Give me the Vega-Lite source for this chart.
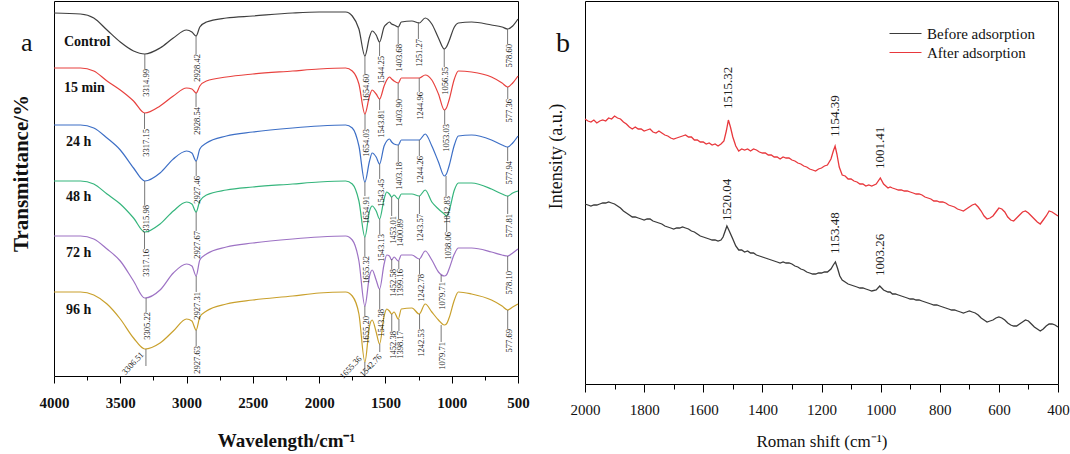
{
"$schema": "https://vega.github.io/schema/vega-lite/v6.json",
"background": "white",
"padding": {"left": 9, "top": 0, "right": 5, "bottom": 5},
"bounds": "flush",
"spacing": 67,
"resolve": {"scale": {"color": "independent"}, "legend": {"color": "independent"}},
"config": {"font": "Liberation Serif", "view": {"stroke": "#000", "strokeWidth": 1}, "axis": {"grid": false, "domain": false, "tickColor": "#000"}},
"datasets": {
"ftir": [
{"sample":"Control","wn":4000,"t":363},{"sample":"Control","wn":3800,"t":362},{"sample":"Control","wn":3700,"t":358},{"sample":"Control","wn":3600,"t":346},{"sample":"Control","wn":3500,"t":334},{"sample":"Control","wn":3400,"t":325},{"sample":"Control","wn":3315,"t":322},{"sample":"Control","wn":3200,"t":328},{"sample":"Control","wn":3100,"t":338},{"sample":"Control","wn":3000,"t":346},{"sample":"Control","wn":2960,"t":344},{"sample":"Control","wn":2928,"t":340},{"sample":"Control","wn":2900,"t":349},{"sample":"Control","wn":2850,"t":354},{"sample":"Control","wn":2700,"t":358},{"sample":"Control","wn":2500,"t":360},{"sample":"Control","wn":2200,"t":363},{"sample":"Control","wn":2000,"t":364},{"sample":"Control","wn":1800,"t":364},{"sample":"Control","wn":1750,"t":360},{"sample":"Control","wn":1700,"t":347},{"sample":"Control","wn":1655,"t":320},{"sample":"Control","wn":1620,"t":339},{"sample":"Control","wn":1600,"t":345},{"sample":"Control","wn":1570,"t":341},{"sample":"Control","wn":1544,"t":334},{"sample":"Control","wn":1510,"t":349},{"sample":"Control","wn":1490,"t":352},{"sample":"Control","wn":1470,"t":354},{"sample":"Control","wn":1453,"t":352},{"sample":"Control","wn":1435,"t":351},{"sample":"Control","wn":1403,"t":349},{"sample":"Control","wn":1380,"t":354},{"sample":"Control","wn":1300,"t":355},{"sample":"Control","wn":1245,"t":353},{"sample":"Control","wn":1200,"t":358},{"sample":"Control","wn":1150,"t":352},{"sample":"Control","wn":1100,"t":338},{"sample":"Control","wn":1056,"t":327},{"sample":"Control","wn":1040,"t":329},{"sample":"Control","wn":1020,"t":335},{"sample":"Control","wn":980,"t":349},{"sample":"Control","wn":950,"t":353},{"sample":"Control","wn":850,"t":354},{"sample":"Control","wn":700,"t":351},{"sample":"Control","wn":620,"t":349},{"sample":"Control","wn":578,"t":347},{"sample":"Control","wn":540,"t":350},{"sample":"Control","wn":500,"t":357},
{"sample":"15 min","wn":4000,"t":308},{"sample":"15 min","wn":3800,"t":308},{"sample":"15 min","wn":3700,"t":305},{"sample":"15 min","wn":3600,"t":295},{"sample":"15 min","wn":3500,"t":286},{"sample":"15 min","wn":3400,"t":275},{"sample":"15 min","wn":3315,"t":263},{"sample":"15 min","wn":3200,"t":270},{"sample":"15 min","wn":3100,"t":280},{"sample":"15 min","wn":3000,"t":288},{"sample":"15 min","wn":2960,"t":287},{"sample":"15 min","wn":2928,"t":283},{"sample":"15 min","wn":2900,"t":290},{"sample":"15 min","wn":2850,"t":295},{"sample":"15 min","wn":2700,"t":299},{"sample":"15 min","wn":2500,"t":302},{"sample":"15 min","wn":2200,"t":305},{"sample":"15 min","wn":2000,"t":307},{"sample":"15 min","wn":1800,"t":308},{"sample":"15 min","wn":1750,"t":305},{"sample":"15 min","wn":1700,"t":292},{"sample":"15 min","wn":1655,"t":262},{"sample":"15 min","wn":1620,"t":280},{"sample":"15 min","wn":1600,"t":286},{"sample":"15 min","wn":1570,"t":282},{"sample":"15 min","wn":1544,"t":277},{"sample":"15 min","wn":1510,"t":290},{"sample":"15 min","wn":1490,"t":296},{"sample":"15 min","wn":1470,"t":299},{"sample":"15 min","wn":1453,"t":297},{"sample":"15 min","wn":1435,"t":295},{"sample":"15 min","wn":1403,"t":293},{"sample":"15 min","wn":1380,"t":298},{"sample":"15 min","wn":1300,"t":298},{"sample":"15 min","wn":1245,"t":298},{"sample":"15 min","wn":1200,"t":301},{"sample":"15 min","wn":1150,"t":296},{"sample":"15 min","wn":1100,"t":282},{"sample":"15 min","wn":1056,"t":266},{"sample":"15 min","wn":1040,"t":268},{"sample":"15 min","wn":1020,"t":276},{"sample":"15 min","wn":980,"t":297},{"sample":"15 min","wn":950,"t":305},{"sample":"15 min","wn":850,"t":304},{"sample":"15 min","wn":700,"t":299},{"sample":"15 min","wn":620,"t":293},{"sample":"15 min","wn":578,"t":289},{"sample":"15 min","wn":540,"t":293},{"sample":"15 min","wn":500,"t":300},
{"sample":"24 h","wn":4000,"t":251},{"sample":"24 h","wn":3800,"t":251},{"sample":"24 h","wn":3700,"t":248},{"sample":"24 h","wn":3600,"t":238},{"sample":"24 h","wn":3500,"t":226},{"sample":"24 h","wn":3400,"t":208},{"sample":"24 h","wn":3315,"t":195},{"sample":"24 h","wn":3200,"t":203},{"sample":"24 h","wn":3100,"t":217},{"sample":"24 h","wn":3000,"t":225},{"sample":"24 h","wn":2960,"t":223},{"sample":"24 h","wn":2928,"t":215},{"sample":"24 h","wn":2900,"t":227},{"sample":"24 h","wn":2850,"t":233},{"sample":"24 h","wn":2700,"t":240},{"sample":"24 h","wn":2500,"t":244},{"sample":"24 h","wn":2200,"t":248},{"sample":"24 h","wn":2000,"t":250},{"sample":"24 h","wn":1800,"t":251},{"sample":"24 h","wn":1750,"t":248},{"sample":"24 h","wn":1700,"t":230},{"sample":"24 h","wn":1655,"t":194},{"sample":"24 h","wn":1620,"t":215},{"sample":"24 h","wn":1600,"t":223},{"sample":"24 h","wn":1570,"t":219},{"sample":"24 h","wn":1544,"t":212},{"sample":"24 h","wn":1510,"t":230},{"sample":"24 h","wn":1490,"t":235},{"sample":"24 h","wn":1470,"t":237},{"sample":"24 h","wn":1453,"t":234},{"sample":"24 h","wn":1435,"t":232},{"sample":"24 h","wn":1403,"t":231},{"sample":"24 h","wn":1380,"t":236},{"sample":"24 h","wn":1300,"t":236},{"sample":"24 h","wn":1245,"t":236},{"sample":"24 h","wn":1200,"t":242},{"sample":"24 h","wn":1150,"t":230},{"sample":"24 h","wn":1100,"t":214},{"sample":"24 h","wn":1056,"t":200},{"sample":"24 h","wn":1040,"t":202},{"sample":"24 h","wn":1020,"t":210},{"sample":"24 h","wn":980,"t":231},{"sample":"24 h","wn":950,"t":240},{"sample":"24 h","wn":850,"t":241},{"sample":"24 h","wn":700,"t":236},{"sample":"24 h","wn":620,"t":231},{"sample":"24 h","wn":578,"t":229},{"sample":"24 h","wn":540,"t":233},{"sample":"24 h","wn":500,"t":240},
{"sample":"48 h","wn":4000,"t":195},{"sample":"48 h","wn":3800,"t":195},{"sample":"48 h","wn":3700,"t":192},{"sample":"48 h","wn":3600,"t":182},{"sample":"48 h","wn":3500,"t":172},{"sample":"48 h","wn":3400,"t":158},{"sample":"48 h","wn":3315,"t":144},{"sample":"48 h","wn":3200,"t":152},{"sample":"48 h","wn":3100,"t":165},{"sample":"48 h","wn":3000,"t":174},{"sample":"48 h","wn":2960,"t":172},{"sample":"48 h","wn":2928,"t":164},{"sample":"48 h","wn":2900,"t":175},{"sample":"48 h","wn":2850,"t":181},{"sample":"48 h","wn":2700,"t":186},{"sample":"48 h","wn":2500,"t":189},{"sample":"48 h","wn":2200,"t":192},{"sample":"48 h","wn":2000,"t":194},{"sample":"48 h","wn":1800,"t":195},{"sample":"48 h","wn":1750,"t":192},{"sample":"48 h","wn":1700,"t":175},{"sample":"48 h","wn":1655,"t":139},{"sample":"48 h","wn":1620,"t":165},{"sample":"48 h","wn":1600,"t":170},{"sample":"48 h","wn":1570,"t":165},{"sample":"48 h","wn":1544,"t":157},{"sample":"48 h","wn":1510,"t":177},{"sample":"48 h","wn":1490,"t":184},{"sample":"48 h","wn":1470,"t":182},{"sample":"48 h","wn":1453,"t":179},{"sample":"48 h","wn":1435,"t":181},{"sample":"48 h","wn":1403,"t":177},{"sample":"48 h","wn":1380,"t":182},{"sample":"48 h","wn":1300,"t":182},{"sample":"48 h","wn":1245,"t":180},{"sample":"48 h","wn":1200,"t":186},{"sample":"48 h","wn":1150,"t":174},{"sample":"48 h","wn":1100,"t":167},{"sample":"48 h","wn":1056,"t":162},{"sample":"48 h","wn":1040,"t":160},{"sample":"48 h","wn":1020,"t":165},{"sample":"48 h","wn":980,"t":186},{"sample":"48 h","wn":950,"t":193},{"sample":"48 h","wn":850,"t":193},{"sample":"48 h","wn":700,"t":187},{"sample":"48 h","wn":620,"t":182},{"sample":"48 h","wn":578,"t":180},{"sample":"48 h","wn":540,"t":183},{"sample":"48 h","wn":500,"t":185},
{"sample":"72 h","wn":4000,"t":140},{"sample":"72 h","wn":3800,"t":140},{"sample":"72 h","wn":3700,"t":137},{"sample":"72 h","wn":3600,"t":127},{"sample":"72 h","wn":3500,"t":115},{"sample":"72 h","wn":3400,"t":95},{"sample":"72 h","wn":3315,"t":78},{"sample":"72 h","wn":3200,"t":86},{"sample":"72 h","wn":3100,"t":103},{"sample":"72 h","wn":3000,"t":112},{"sample":"72 h","wn":2960,"t":110},{"sample":"72 h","wn":2928,"t":100},{"sample":"72 h","wn":2900,"t":116},{"sample":"72 h","wn":2850,"t":122},{"sample":"72 h","wn":2700,"t":129},{"sample":"72 h","wn":2500,"t":133},{"sample":"72 h","wn":2200,"t":137},{"sample":"72 h","wn":2000,"t":139},{"sample":"72 h","wn":1800,"t":140},{"sample":"72 h","wn":1750,"t":136},{"sample":"72 h","wn":1700,"t":115},{"sample":"72 h","wn":1655,"t":70},{"sample":"72 h","wn":1620,"t":100},{"sample":"72 h","wn":1600,"t":106},{"sample":"72 h","wn":1570,"t":96},{"sample":"72 h","wn":1544,"t":87},{"sample":"72 h","wn":1510,"t":112},{"sample":"72 h","wn":1490,"t":121},{"sample":"72 h","wn":1470,"t":120},{"sample":"72 h","wn":1453,"t":116},{"sample":"72 h","wn":1435,"t":119},{"sample":"72 h","wn":1403,"t":115},{"sample":"72 h","wn":1380,"t":121},{"sample":"72 h","wn":1300,"t":121},{"sample":"72 h","wn":1245,"t":117},{"sample":"72 h","wn":1200,"t":125},{"sample":"72 h","wn":1150,"t":116},{"sample":"72 h","wn":1100,"t":104},{"sample":"72 h","wn":1056,"t":100},{"sample":"72 h","wn":1040,"t":101},{"sample":"72 h","wn":1020,"t":107},{"sample":"72 h","wn":980,"t":122},{"sample":"72 h","wn":950,"t":128},{"sample":"72 h","wn":850,"t":128},{"sample":"72 h","wn":700,"t":124},{"sample":"72 h","wn":620,"t":121},{"sample":"72 h","wn":578,"t":120},{"sample":"72 h","wn":540,"t":123},{"sample":"72 h","wn":500,"t":127},
{"sample":"96 h","wn":4000,"t":84},{"sample":"96 h","wn":3800,"t":84},{"sample":"96 h","wn":3700,"t":81},{"sample":"96 h","wn":3600,"t":72},{"sample":"96 h","wn":3500,"t":57},{"sample":"96 h","wn":3400,"t":38},{"sample":"96 h","wn":3315,"t":27},{"sample":"96 h","wn":3200,"t":33},{"sample":"96 h","wn":3100,"t":45},{"sample":"96 h","wn":3000,"t":57},{"sample":"96 h","wn":2960,"t":55},{"sample":"96 h","wn":2928,"t":46},{"sample":"96 h","wn":2900,"t":59},{"sample":"96 h","wn":2850,"t":65},{"sample":"96 h","wn":2700,"t":72},{"sample":"96 h","wn":2500,"t":76},{"sample":"96 h","wn":2200,"t":80},{"sample":"96 h","wn":2000,"t":83},{"sample":"96 h","wn":1800,"t":84},{"sample":"96 h","wn":1750,"t":80},{"sample":"96 h","wn":1700,"t":62},{"sample":"96 h","wn":1655,"t":14},{"sample":"96 h","wn":1620,"t":50},{"sample":"96 h","wn":1600,"t":56},{"sample":"96 h","wn":1570,"t":44},{"sample":"96 h","wn":1544,"t":32},{"sample":"96 h","wn":1510,"t":60},{"sample":"96 h","wn":1490,"t":67},{"sample":"96 h","wn":1470,"t":65},{"sample":"96 h","wn":1453,"t":62},{"sample":"96 h","wn":1435,"t":64},{"sample":"96 h","wn":1403,"t":57},{"sample":"96 h","wn":1380,"t":67},{"sample":"96 h","wn":1300,"t":68},{"sample":"96 h","wn":1245,"t":62},{"sample":"96 h","wn":1200,"t":72},{"sample":"96 h","wn":1150,"t":64},{"sample":"96 h","wn":1100,"t":56},{"sample":"96 h","wn":1056,"t":51},{"sample":"96 h","wn":1040,"t":52},{"sample":"96 h","wn":1020,"t":58},{"sample":"96 h","wn":980,"t":76},{"sample":"96 h","wn":950,"t":84},{"sample":"96 h","wn":850,"t":82},{"sample":"96 h","wn":700,"t":76},{"sample":"96 h","wn":620,"t":70},{"sample":"96 h","wn":578,"t":66},{"sample":"96 h","wn":540,"t":69},{"sample":"96 h","wn":500,"t":72}
],
"ftirPeaks": [
{"sample":"Control","wn":3314.99,"t1":322,"t2":307,"label":"3314.99"},{"sample":"Control","wn":2928.42,"t1":340,"t2":322,"label":"2928.42"},{"sample":"Control","wn":1654.60,"t1":320,"t2":302,"label":"1654.60"},{"sample":"Control","wn":1544.25,"t1":334,"t2":320,"label":"1544.25"},{"sample":"Control","wn":1403.68,"t1":349,"t2":332,"label":"1403.68"},{"sample":"Control","wn":1251.27,"t1":354,"t2":337,"label":"1251.27"},{"sample":"Control","wn":1056.35,"t1":327,"t2":309,"label":"1056.35"},{"sample":"Control","wn":578.60,"t1":347,"t2":332,"label":"578.60"},
{"sample":"15 min","wn":3317.15,"t1":263,"t2":247,"label":"3317.15"},{"sample":"15 min","wn":2928.54,"t1":283,"t2":269,"label":"2928.54"},{"sample":"15 min","wn":1654.03,"t1":262,"t2":247,"label":"1654.03"},{"sample":"15 min","wn":1543.81,"t1":277,"t2":266,"label":"1543.81"},{"sample":"15 min","wn":1403.90,"t1":293,"t2":277,"label":"1403.90"},{"sample":"15 min","wn":1244.96,"t1":298,"t2":284,"label":"1244.96"},{"sample":"15 min","wn":1053.03,"t1":266,"t2":252,"label":"1053.03"},{"sample":"15 min","wn":577.36,"t1":289,"t2":277,"label":"577.36"},
{"sample":"24 h","wn":3315.98,"t1":195,"t2":171,"label":"3315.98"},{"sample":"24 h","wn":2927.46,"t1":215,"t2":200,"label":"2927.46"},{"sample":"24 h","wn":1654.91,"t1":194,"t2":180,"label":"1654.91"},{"sample":"24 h","wn":1543.45,"t1":212,"t2":197,"label":"1543.45"},{"sample":"24 h","wn":1403.18,"t1":231,"t2":214,"label":"1403.18"},{"sample":"24 h","wn":1244.26,"t1":236,"t2":220,"label":"1244.26"},{"sample":"24 h","wn":1042.83,"t1":200,"t2":180,"label":"1042.83"},{"sample":"24 h","wn":577.94,"t1":229,"t2":215,"label":"577.94"},
{"sample":"48 h","wn":3317.16,"t1":144,"t2":127,"label":"3317.16"},{"sample":"48 h","wn":2927.67,"t1":164,"t2":145,"label":"2927.67"},{"sample":"48 h","wn":1655.32,"t1":139,"t2":120,"label":"1655.32"},{"sample":"48 h","wn":1543.13,"t1":157,"t2":142,"label":"1543.13"},{"sample":"48 h","wn":1453.01,"t1":179,"t2":160,"label":"1453.01"},{"sample":"48 h","wn":1400.89,"t1":177,"t2":157,"label":"1400.89"},{"sample":"48 h","wn":1243.57,"t1":180,"t2":162,"label":"1243.57"},{"sample":"48 h","wn":1038.06,"t1":160,"t2":144,"label":"1038.06"},{"sample":"48 h","wn":577.81,"t1":180,"t2":162,"label":"577.81"},
{"sample":"72 h","wn":3305.22,"t1":78,"t2":64,"label":"3305.22"},{"sample":"72 h","wn":2927.31,"t1":100,"t2":84,"label":"2927.31"},{"sample":"72 h","wn":1655.20,"t1":70,"t2":60,"label":"1655.20"},{"sample":"72 h","wn":1543.38,"t1":87,"t2":67,"label":"1543.38"},{"sample":"72 h","wn":1452.58,"t1":117,"t2":107,"label":"1452.58"},{"sample":"72 h","wn":1399.16,"t1":115,"t2":107,"label":"1399.16"},{"sample":"72 h","wn":1242.78,"t1":117,"t2":102,"label":"1242.78"},{"sample":"72 h","wn":1079.71,"t1":101,"t2":94,"label":"1079.71"},{"sample":"72 h","wn":578.10,"t1":120,"t2":105,"label":"578.10"},
{"sample":"96 h","wn":3306.51,"t1":27,"t2":10,"label":"3306.51","tilted":true},{"sample":"96 h","wn":2927.63,"t1":46,"t2":30,"label":"2927.63"},{"sample":"96 h","wn":1655.36,"t1":14,"t2":0,"label":"1655.36","tilted":true},{"sample":"96 h","wn":1542.76,"t1":32,"t2":24,"label":"1542.76","tilted":true},{"sample":"96 h","wn":1452.38,"t1":62,"t2":45,"label":"1452.38"},{"sample":"96 h","wn":1398.17,"t1":57,"t2":45,"label":"1398.17"},{"sample":"96 h","wn":1242.53,"t1":62,"t2":47,"label":"1242.53"},{"sample":"96 h","wn":1079.71,"t1":51,"t2":34,"label":"1079.71"},{"sample":"96 h","wn":577.69,"t1":66,"t2":47,"label":"577.69"}
],
"ftirTilted": [
{"wn":3336,"t":23,"label":"3306.51"},{"wn":1692,"t":19,"label":"1655.36"},{"wn":1541,"t":21,"label":"1542.76"}
],
"ftirNames": [
{"sample":"Control","wn":3925,"t":330},{"sample":"15 min","wn":3925,"t":284},{"sample":"24 h","wn":3910,"t":230},{"sample":"48 h","wn":3910,"t":175},{"sample":"72 h","wn":3910,"t":119},{"sample":"96 h","wn":3910,"t":62}
],
"raman": [
{"series":"After adsorption","shift":2000,"intensity":265},{"series":"After adsorption","shift":1990,"intensity":263},{"series":"After adsorption","shift":1980,"intensity":262},{"series":"After adsorption","shift":1970,"intensity":264},{"series":"After adsorption","shift":1960,"intensity":261},{"series":"After adsorption","shift":1950,"intensity":263},{"series":"After adsorption","shift":1940,"intensity":264},{"series":"After adsorption","shift":1930,"intensity":263},{"series":"After adsorption","shift":1920,"intensity":266},{"series":"After adsorption","shift":1910,"intensity":265},{"series":"After adsorption","shift":1900,"intensity":268},{"series":"After adsorption","shift":1890,"intensity":266},{"series":"After adsorption","shift":1880,"intensity":265},{"series":"After adsorption","shift":1870,"intensity":262},{"series":"After adsorption","shift":1860,"intensity":260},{"series":"After adsorption","shift":1850,"intensity":257},{"series":"After adsorption","shift":1840,"intensity":255},{"series":"After adsorption","shift":1830,"intensity":257},{"series":"After adsorption","shift":1820,"intensity":255},{"series":"After adsorption","shift":1810,"intensity":255},{"series":"After adsorption","shift":1800,"intensity":253},{"series":"After adsorption","shift":1790,"intensity":254},{"series":"After adsorption","shift":1780,"intensity":255},{"series":"After adsorption","shift":1770,"intensity":252},{"series":"After adsorption","shift":1760,"intensity":251},{"series":"After adsorption","shift":1750,"intensity":253},{"series":"After adsorption","shift":1740,"intensity":251},{"series":"After adsorption","shift":1730,"intensity":249},{"series":"After adsorption","shift":1720,"intensity":248},{"series":"After adsorption","shift":1710,"intensity":246},{"series":"After adsorption","shift":1700,"intensity":245},{"series":"After adsorption","shift":1690,"intensity":246},{"series":"After adsorption","shift":1680,"intensity":247},{"series":"After adsorption","shift":1670,"intensity":248},{"series":"After adsorption","shift":1660,"intensity":249},{"series":"After adsorption","shift":1650,"intensity":247},{"series":"After adsorption","shift":1640,"intensity":247},{"series":"After adsorption","shift":1630,"intensity":244},{"series":"After adsorption","shift":1620,"intensity":244},{"series":"After adsorption","shift":1610,"intensity":242},{"series":"After adsorption","shift":1600,"intensity":242},{"series":"After adsorption","shift":1590,"intensity":240},{"series":"After adsorption","shift":1580,"intensity":241},{"series":"After adsorption","shift":1570,"intensity":239},{"series":"After adsorption","shift":1560,"intensity":240},{"series":"After adsorption","shift":1550,"intensity":238},{"series":"After adsorption","shift":1540,"intensity":240},{"series":"After adsorption","shift":1530,"intensity":243},{"series":"After adsorption","shift":1522,"intensity":253},{"series":"After adsorption","shift":1515,"intensity":264},{"series":"After adsorption","shift":1508,"intensity":257},{"series":"After adsorption","shift":1500,"intensity":247},{"series":"After adsorption","shift":1490,"intensity":238},{"series":"After adsorption","shift":1480,"intensity":233},{"series":"After adsorption","shift":1470,"intensity":235},{"series":"After adsorption","shift":1460,"intensity":234},{"series":"After adsorption","shift":1450,"intensity":235},{"series":"After adsorption","shift":1440,"intensity":233},{"series":"After adsorption","shift":1430,"intensity":235},{"series":"After adsorption","shift":1420,"intensity":234},{"series":"After adsorption","shift":1410,"intensity":232},{"series":"After adsorption","shift":1400,"intensity":231},{"series":"After adsorption","shift":1390,"intensity":231},{"series":"After adsorption","shift":1380,"intensity":229},{"series":"After adsorption","shift":1370,"intensity":229},{"series":"After adsorption","shift":1360,"intensity":227},{"series":"After adsorption","shift":1350,"intensity":227},{"series":"After adsorption","shift":1340,"intensity":225},{"series":"After adsorption","shift":1330,"intensity":227},{"series":"After adsorption","shift":1320,"intensity":226},{"series":"After adsorption","shift":1310,"intensity":226},{"series":"After adsorption","shift":1300,"intensity":224},{"series":"After adsorption","shift":1290,"intensity":223},{"series":"After adsorption","shift":1280,"intensity":221},{"series":"After adsorption","shift":1270,"intensity":220},{"series":"After adsorption","shift":1260,"intensity":218},{"series":"After adsorption","shift":1250,"intensity":217},{"series":"After adsorption","shift":1240,"intensity":215},{"series":"After adsorption","shift":1230,"intensity":214},{"series":"After adsorption","shift":1220,"intensity":213},{"series":"After adsorption","shift":1210,"intensity":215},{"series":"After adsorption","shift":1200,"intensity":216},{"series":"After adsorption","shift":1190,"intensity":218},{"series":"After adsorption","shift":1180,"intensity":219},{"series":"After adsorption","shift":1168,"intensity":225},{"series":"After adsorption","shift":1160,"intensity":233},{"series":"After adsorption","shift":1154,"intensity":238},{"series":"After adsorption","shift":1148,"intensity":230},{"series":"After adsorption","shift":1140,"intensity":217},{"series":"After adsorption","shift":1130,"intensity":209},{"series":"After adsorption","shift":1120,"intensity":208},{"series":"After adsorption","shift":1110,"intensity":205},{"series":"After adsorption","shift":1100,"intensity":205},{"series":"After adsorption","shift":1090,"intensity":203},{"series":"After adsorption","shift":1080,"intensity":202},{"series":"After adsorption","shift":1070,"intensity":200},{"series":"After adsorption","shift":1060,"intensity":200},{"series":"After adsorption","shift":1050,"intensity":198},{"series":"After adsorption","shift":1040,"intensity":199},{"series":"After adsorption","shift":1030,"intensity":198},{"series":"After adsorption","shift":1015,"intensity":200},{"series":"After adsorption","shift":1001,"intensity":206},{"series":"After adsorption","shift":990,"intensity":200},{"series":"After adsorption","shift":975,"intensity":196},{"series":"After adsorption","shift":968,"intensity":197},{"series":"After adsorption","shift":960,"intensity":196},{"series":"After adsorption","shift":950,"intensity":195},{"series":"After adsorption","shift":940,"intensity":194},{"series":"After adsorption","shift":930,"intensity":194},{"series":"After adsorption","shift":920,"intensity":193},{"series":"After adsorption","shift":910,"intensity":193},{"series":"After adsorption","shift":900,"intensity":192},{"series":"After adsorption","shift":890,"intensity":191},{"series":"After adsorption","shift":880,"intensity":190},{"series":"After adsorption","shift":870,"intensity":190},{"series":"After adsorption","shift":860,"intensity":189},{"series":"After adsorption","shift":850,"intensity":187},{"series":"After adsorption","shift":840,"intensity":186},{"series":"After adsorption","shift":830,"intensity":185},{"series":"After adsorption","shift":820,"intensity":183},{"series":"After adsorption","shift":810,"intensity":183},{"series":"After adsorption","shift":800,"intensity":182},{"series":"After adsorption","shift":790,"intensity":182},{"series":"After adsorption","shift":780,"intensity":181},{"series":"After adsorption","shift":770,"intensity":179},{"series":"After adsorption","shift":760,"intensity":178},{"series":"After adsorption","shift":750,"intensity":177},{"series":"After adsorption","shift":740,"intensity":175},{"series":"After adsorption","shift":730,"intensity":174},{"series":"After adsorption","shift":720,"intensity":173},{"series":"After adsorption","shift":710,"intensity":175},{"series":"After adsorption","shift":700,"intensity":177},{"series":"After adsorption","shift":690,"intensity":179},{"series":"After adsorption","shift":680,"intensity":180},{"series":"After adsorption","shift":670,"intensity":177},{"series":"After adsorption","shift":660,"intensity":173},{"series":"After adsorption","shift":650,"intensity":168},{"series":"After adsorption","shift":640,"intensity":165},{"series":"After adsorption","shift":630,"intensity":166},{"series":"After adsorption","shift":620,"intensity":168},{"series":"After adsorption","shift":610,"intensity":172},{"series":"After adsorption","shift":600,"intensity":176},{"series":"After adsorption","shift":590,"intensity":175},{"series":"After adsorption","shift":580,"intensity":172},{"series":"After adsorption","shift":570,"intensity":167},{"series":"After adsorption","shift":560,"intensity":164},{"series":"After adsorption","shift":550,"intensity":163},{"series":"After adsorption","shift":540,"intensity":166},{"series":"After adsorption","shift":530,"intensity":169},{"series":"After adsorption","shift":520,"intensity":172},{"series":"After adsorption","shift":510,"intensity":173},{"series":"After adsorption","shift":500,"intensity":171},{"series":"After adsorption","shift":490,"intensity":168},{"series":"After adsorption","shift":480,"intensity":165},{"series":"After adsorption","shift":470,"intensity":162},{"series":"After adsorption","shift":460,"intensity":160},{"series":"After adsorption","shift":450,"intensity":164},{"series":"After adsorption","shift":440,"intensity":168},{"series":"After adsorption","shift":430,"intensity":173},{"series":"After adsorption","shift":420,"intensity":172},{"series":"After adsorption","shift":410,"intensity":170},{"series":"After adsorption","shift":400,"intensity":168},
{"series":"Before adsorption","shift":2000,"intensity":180},{"series":"Before adsorption","shift":1990,"intensity":179},{"series":"Before adsorption","shift":1980,"intensity":178},{"series":"Before adsorption","shift":1970,"intensity":179},{"series":"Before adsorption","shift":1960,"intensity":179},{"series":"Before adsorption","shift":1950,"intensity":180},{"series":"Before adsorption","shift":1940,"intensity":181},{"series":"Before adsorption","shift":1930,"intensity":181},{"series":"Before adsorption","shift":1920,"intensity":182},{"series":"Before adsorption","shift":1910,"intensity":181},{"series":"Before adsorption","shift":1900,"intensity":180},{"series":"Before adsorption","shift":1890,"intensity":178},{"series":"Before adsorption","shift":1880,"intensity":176},{"series":"Before adsorption","shift":1870,"intensity":173},{"series":"Before adsorption","shift":1860,"intensity":171},{"series":"Before adsorption","shift":1850,"intensity":169},{"series":"Before adsorption","shift":1840,"intensity":167},{"series":"Before adsorption","shift":1830,"intensity":167},{"series":"Before adsorption","shift":1820,"intensity":166},{"series":"Before adsorption","shift":1810,"intensity":165},{"series":"Before adsorption","shift":1800,"intensity":164},{"series":"Before adsorption","shift":1790,"intensity":165},{"series":"Before adsorption","shift":1780,"intensity":165},{"series":"Before adsorption","shift":1770,"intensity":163},{"series":"Before adsorption","shift":1760,"intensity":162},{"series":"Before adsorption","shift":1750,"intensity":161},{"series":"Before adsorption","shift":1740,"intensity":160},{"series":"Before adsorption","shift":1730,"intensity":158},{"series":"Before adsorption","shift":1720,"intensity":157},{"series":"Before adsorption","shift":1710,"intensity":156},{"series":"Before adsorption","shift":1700,"intensity":155},{"series":"Before adsorption","shift":1690,"intensity":156},{"series":"Before adsorption","shift":1680,"intensity":156},{"series":"Before adsorption","shift":1670,"intensity":157},{"series":"Before adsorption","shift":1660,"intensity":156},{"series":"Before adsorption","shift":1650,"intensity":155},{"series":"Before adsorption","shift":1640,"intensity":153},{"series":"Before adsorption","shift":1630,"intensity":152},{"series":"Before adsorption","shift":1620,"intensity":150},{"series":"Before adsorption","shift":1610,"intensity":148},{"series":"Before adsorption","shift":1600,"intensity":147},{"series":"Before adsorption","shift":1590,"intensity":146},{"series":"Before adsorption","shift":1580,"intensity":145},{"series":"Before adsorption","shift":1570,"intensity":144},{"series":"Before adsorption","shift":1560,"intensity":144},{"series":"Before adsorption","shift":1550,"intensity":143},{"series":"Before adsorption","shift":1540,"intensity":144},{"series":"Before adsorption","shift":1533,"intensity":147},{"series":"Before adsorption","shift":1527,"intensity":152},{"series":"Before adsorption","shift":1520,"intensity":158},{"series":"Before adsorption","shift":1512,"intensity":153},{"series":"Before adsorption","shift":1500,"intensity":145},{"series":"Before adsorption","shift":1490,"intensity":138},{"series":"Before adsorption","shift":1480,"intensity":134},{"series":"Before adsorption","shift":1470,"intensity":134},{"series":"Before adsorption","shift":1460,"intensity":132},{"series":"Before adsorption","shift":1450,"intensity":133},{"series":"Before adsorption","shift":1440,"intensity":131},{"series":"Before adsorption","shift":1430,"intensity":131},{"series":"Before adsorption","shift":1420,"intensity":129},{"series":"Before adsorption","shift":1410,"intensity":128},{"series":"Before adsorption","shift":1400,"intensity":127},{"series":"Before adsorption","shift":1390,"intensity":126},{"series":"Before adsorption","shift":1380,"intensity":125},{"series":"Before adsorption","shift":1370,"intensity":124},{"series":"Before adsorption","shift":1360,"intensity":123},{"series":"Before adsorption","shift":1350,"intensity":122},{"series":"Before adsorption","shift":1340,"intensity":121},{"series":"Before adsorption","shift":1330,"intensity":122},{"series":"Before adsorption","shift":1320,"intensity":121},{"series":"Before adsorption","shift":1310,"intensity":121},{"series":"Before adsorption","shift":1300,"intensity":120},{"series":"Before adsorption","shift":1290,"intensity":118},{"series":"Before adsorption","shift":1280,"intensity":117},{"series":"Before adsorption","shift":1270,"intensity":115},{"series":"Before adsorption","shift":1260,"intensity":114},{"series":"Before adsorption","shift":1250,"intensity":112},{"series":"Before adsorption","shift":1240,"intensity":111},{"series":"Before adsorption","shift":1230,"intensity":110},{"series":"Before adsorption","shift":1220,"intensity":110},{"series":"Before adsorption","shift":1210,"intensity":111},{"series":"Before adsorption","shift":1200,"intensity":111},{"series":"Before adsorption","shift":1190,"intensity":112},{"series":"Before adsorption","shift":1180,"intensity":112},{"series":"Before adsorption","shift":1168,"intensity":115},{"series":"Before adsorption","shift":1160,"intensity":119},{"series":"Before adsorption","shift":1153,"intensity":122},{"series":"Before adsorption","shift":1146,"intensity":116},{"series":"Before adsorption","shift":1138,"intensity":108},{"series":"Before adsorption","shift":1130,"intensity":104},{"series":"Before adsorption","shift":1120,"intensity":102},{"series":"Before adsorption","shift":1110,"intensity":100},{"series":"Before adsorption","shift":1100,"intensity":99},{"series":"Before adsorption","shift":1090,"intensity":98},{"series":"Before adsorption","shift":1080,"intensity":97},{"series":"Before adsorption","shift":1070,"intensity":96},{"series":"Before adsorption","shift":1060,"intensity":96},{"series":"Before adsorption","shift":1050,"intensity":95},{"series":"Before adsorption","shift":1040,"intensity":94},{"series":"Before adsorption","shift":1030,"intensity":93},{"series":"Before adsorption","shift":1015,"intensity":94},{"series":"Before adsorption","shift":1003,"intensity":98},{"series":"Before adsorption","shift":990,"intensity":94},{"series":"Before adsorption","shift":975,"intensity":92},{"series":"Before adsorption","shift":968,"intensity":92},{"series":"Before adsorption","shift":960,"intensity":90},{"series":"Before adsorption","shift":950,"intensity":90},{"series":"Before adsorption","shift":940,"intensity":89},{"series":"Before adsorption","shift":930,"intensity":88},{"series":"Before adsorption","shift":920,"intensity":87},{"series":"Before adsorption","shift":910,"intensity":86},{"series":"Before adsorption","shift":900,"intensity":85},{"series":"Before adsorption","shift":890,"intensity":85},{"series":"Before adsorption","shift":880,"intensity":84},{"series":"Before adsorption","shift":870,"intensity":84},{"series":"Before adsorption","shift":860,"intensity":83},{"series":"Before adsorption","shift":850,"intensity":82},{"series":"Before adsorption","shift":840,"intensity":81},{"series":"Before adsorption","shift":830,"intensity":80},{"series":"Before adsorption","shift":820,"intensity":79},{"series":"Before adsorption","shift":810,"intensity":79},{"series":"Before adsorption","shift":800,"intensity":78},{"series":"Before adsorption","shift":790,"intensity":77},{"series":"Before adsorption","shift":780,"intensity":76},{"series":"Before adsorption","shift":770,"intensity":75},{"series":"Before adsorption","shift":760,"intensity":74},{"series":"Before adsorption","shift":750,"intensity":74},{"series":"Before adsorption","shift":740,"intensity":73},{"series":"Before adsorption","shift":730,"intensity":72},{"series":"Before adsorption","shift":720,"intensity":71},{"series":"Before adsorption","shift":710,"intensity":72},{"series":"Before adsorption","shift":700,"intensity":73},{"series":"Before adsorption","shift":690,"intensity":72},{"series":"Before adsorption","shift":680,"intensity":71},{"series":"Before adsorption","shift":670,"intensity":69},{"series":"Before adsorption","shift":660,"intensity":66},{"series":"Before adsorption","shift":650,"intensity":64},{"series":"Before adsorption","shift":640,"intensity":62},{"series":"Before adsorption","shift":630,"intensity":63},{"series":"Before adsorption","shift":620,"intensity":64},{"series":"Before adsorption","shift":610,"intensity":66},{"series":"Before adsorption","shift":600,"intensity":67},{"series":"Before adsorption","shift":590,"intensity":66},{"series":"Before adsorption","shift":580,"intensity":64},{"series":"Before adsorption","shift":570,"intensity":61},{"series":"Before adsorption","shift":560,"intensity":59},{"series":"Before adsorption","shift":550,"intensity":58},{"series":"Before adsorption","shift":540,"intensity":58},{"series":"Before adsorption","shift":530,"intensity":60},{"series":"Before adsorption","shift":520,"intensity":62},{"series":"Before adsorption","shift":510,"intensity":64},{"series":"Before adsorption","shift":500,"intensity":63},{"series":"Before adsorption","shift":490,"intensity":60},{"series":"Before adsorption","shift":480,"intensity":57},{"series":"Before adsorption","shift":470,"intensity":55},{"series":"Before adsorption","shift":460,"intensity":53},{"series":"Before adsorption","shift":450,"intensity":55},{"series":"Before adsorption","shift":440,"intensity":58},{"series":"Before adsorption","shift":430,"intensity":60},{"series":"Before adsorption","shift":420,"intensity":60},{"series":"Before adsorption","shift":410,"intensity":59},{"series":"Before adsorption","shift":400,"intensity":57}
],
"ramanPeaks": [
{"series":"After adsorption","shift":1515.32,"intensity":275,"label":"1515.32"},{"series":"After adsorption","shift":1154.39,"intensity":247,"label":"1154.39"},{"series":"After adsorption","shift":1001.41,"intensity":215,"label":"1001.41"},
{"series":"Before adsorption","shift":1520.04,"intensity":163,"label":"1520.04"},{"series":"Before adsorption","shift":1153.48,"intensity":130,"label":"1153.48"},{"series":"Before adsorption","shift":1003.26,"intensity":108,"label":"1003.26"}
]
},
"hconcat": [
{
"width": 464, "height": 375,
"title": {"text": "a", "anchor": "start", "frame": "group", "dx": -33, "offset": -55, "fontSize": 26, "font": "Liberation Serif", "fontWeight": "normal", "color": "#111"},
"resolve": {"axis": {"x": "independent"}},
"layer": [
{"data": {"name": "ftir"},
 "mark": {"type": "line", "interpolate": "monotone", "strokeWidth": 1.2},
 "encoding": {
  "x": {"field": "wn", "type": "quantitative", "scale": {"domain": [500, 4000], "reverse": true, "nice": false, "zero": false},
        "axis": {"orient": "bottom", "values": [4000,3500,3000,2500,2000,1500,1000,500], "format": "d", "title": "Wavelength/cm⁻¹", "labelFont": "Liberation Serif", "labelFontWeight": "bold", "labelFontSize": 15, "labelColor": "#111", "labelPadding": 12, "tickSize": 7, "labelFlush": false, "titleFont": "Liberation Serif", "titleFontWeight": "bold", "titleFontSize": 19, "titleColor": "#111", "titlePadding": 21}},
  "y": {"field": "t", "type": "quantitative", "scale": {"domain": [0, 375], "nice": false, "zero": false},
        "axis": {"title": "Transmittance/%", "labelExpr": "''", "tickSize": 0, "titleFont": "Liberation Serif", "titleFontWeight": "bold", "titleFontSize": 21, "titleColor": "#111", "titlePadding": 21, "titleY": 172}},
  "color": {"field": "sample", "type": "nominal", "scale": {"domain": ["Control","15 min","24 h","48 h","72 h","96 h"], "range": ["#3f3f3f","#e8413e","#3d6fc6","#35b57c","#9d72c4","#c9a02c"]}, "legend": null}
 }},
{"data": {"name": "ftirPeaks"},
 "mark": {"type": "rule", "color": "#555", "strokeWidth": 0.8},
 "encoding": {
  "x": {"field": "wn", "type": "quantitative", "axis": {"orient": "bottom", "values": [3750,3250,2750,2250,1750,1250,750], "labels": false, "tickSize": 4, "title": null}},
  "y": {"field": "t1", "type": "quantitative"},
  "y2": {"field": "t2"}
 }},
{"data": {"name": "ftirPeaks"},
 "transform": [{"filter": "datum.tilted !== true"}],
 "mark": {"type": "text", "angle": 270, "align": "right", "baseline": "middle", "font": "Liberation Serif", "fontSize": 8.5, "color": "#222", "dy": 1},
 "encoding": {
  "x": {"field": "wn", "type": "quantitative", "axis": null},
  "y": {"field": "t2", "type": "quantitative"},
  "text": {"field": "label"}
 }},
{"data": {"name": "ftirTilted"},
 "mark": {"type": "text", "angle": 313, "align": "right", "baseline": "middle", "font": "Liberation Serif", "fontSize": 8.5, "color": "#222"},
 "encoding": {
  "x": {"field": "wn", "type": "quantitative", "axis": null},
  "y": {"field": "t", "type": "quantitative"},
  "text": {"field": "label"}
 }},
{"data": {"name": "ftirNames"},
 "mark": {"type": "text", "align": "left", "baseline": "alphabetic", "font": "Liberation Serif", "fontWeight": "bold", "fontSize": 14, "color": "#111"},
 "encoding": {
  "x": {"field": "wn", "type": "quantitative", "axis": null},
  "y": {"field": "t", "type": "quantitative"},
  "text": {"field": "sample"}
 }}
]
},
{
"width": 473, "height": 383,
"title": {"text": "b", "anchor": "start", "frame": "group", "dx": -29, "offset": -57, "fontSize": 28, "font": "Liberation Serif", "fontWeight": "normal", "color": "#111"},
"resolve": {"axis": {"x": "independent"}},
"layer": [
{"data": {"name": "raman"},
 "mark": {"type": "line", "strokeWidth": 1.3},
 "encoding": {
  "x": {"field": "shift", "type": "quantitative", "scale": {"domain": [400, 2000], "reverse": true, "nice": false, "zero": false},
        "axis": {"orient": "bottom", "values": [2000,1800,1600,1400,1200,1000,800,600,400], "format": "d", "title": "Roman shift (cm⁻¹)", "labelFont": "Liberation Serif", "labelFontSize": 15, "labelColor": "#111", "labelPadding": 10, "tickSize": 8, "labelFlush": false, "titleFont": "Liberation Serif", "titleFontWeight": "normal", "titleFontSize": 17, "titleColor": "#111", "titlePadding": 16}},
  "y": {"field": "intensity", "type": "quantitative", "scale": {"domain": [0, 383], "nice": false, "zero": false},
        "axis": {"title": "Intensity (a.u.)", "labelExpr": "''", "tickSize": 0, "titleFont": "Liberation Serif", "titleFontWeight": "normal", "titleFontSize": 18, "titleColor": "#111", "titleX": -29, "titleY": 155, "titleBaseline": "middle", "titleAngle": 270}},
  "color": {"field": "series", "type": "nominal", "scale": {"domain": ["Before adsorption", "After adsorption"], "range": ["#3b3b3b", "#e8383d"]},
            "legend": {"orient": "none", "legendX": 312, "legendY": 24, "title": null, "symbolType": "M-2,0H2", "symbolSize": 256, "symbolStrokeWidth": 1, "symbolFillColor": "transparent", "labelFont": "Liberation Serif", "labelFontSize": 15, "labelColor": "#111", "rowPadding": 2, "labelOffset": 13, "padding": 0}}
 }},
{"data": {"name": "ramanPeaks"},
 "mark": {"type": "text", "angle": 270, "align": "left", "baseline": "middle", "font": "Liberation Serif", "fontSize": 13, "color": "#222"},
 "encoding": {
  "x": {"field": "shift", "type": "quantitative", "axis": {"orient": "bottom", "values": [1900,1700,1500,1300,1100,900,700,500], "labels": false, "tickSize": 5, "title": null}},
  "y": {"field": "intensity", "type": "quantitative"},
  "text": {"field": "label"}
 }}
]
}
]
}
